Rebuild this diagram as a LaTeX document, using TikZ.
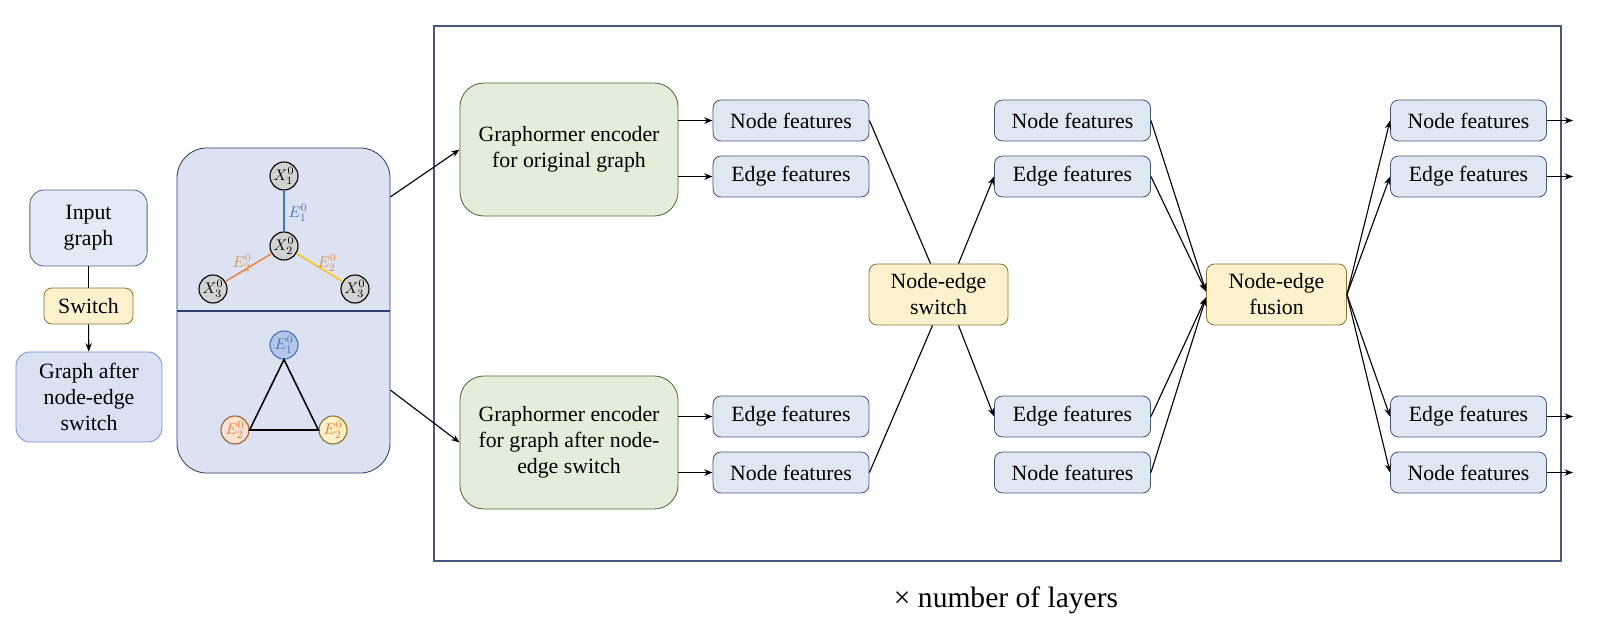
\documentclass[tikz,border=0pt]{standalone}
\usepackage{fontspec}
\setmainfont{Liberation Serif}
\usetikzlibrary{positioning,arrows.meta}

\definecolor{featfill}{HTML}{DFE7F3}
\definecolor{featline}{HTML}{44597D}
\definecolor{encfill}{HTML}{E2EDDA}
\definecolor{encline}{HTML}{4E6E3A}
\definecolor{yelfill}{HTML}{FBF1CD}
\definecolor{yelline}{HTML}{8C7430}
\definecolor{panfill}{HTML}{DCE2F2}
\definecolor{panline}{HTML}{2E3F6B}
\definecolor{inpfill}{HTML}{E2EAF5}
\definecolor{inpline}{HTML}{4F6A8F}
\definecolor{aftfill}{HTML}{DAE1F3}
\definecolor{aftline}{HTML}{7A93D8}
\definecolor{eblue}{HTML}{4472C4}
\definecolor{eorange}{HTML}{ED7D31}
\definecolor{egold}{HTML}{FFC000}
\definecolor{lblorange}{HTML}{E0904A}

\begin{document}
\begin{tikzpicture}
		[x=0.025cm, y=-0.025cm, >={Stealth[length=6pt,width=4.5pt]},
		font=\fontsize{15.5}{18.5}\selectfont, line width=0.8pt,
		feat/.style={draw=featline, fill=featfill, rounded corners=0.2cm,
			line width=0.6pt, minimum width=3.9cm, minimum height=1.025cm, inner sep=0pt},
		enc/.style={draw=encline, fill=encfill, rounded corners=0.6cm, align=center,
			line width=0.6pt, minimum width=5.45cm, minimum height=3.325cm},
		yel/.style={draw=yelline, fill=yelfill, rounded corners=0.2cm, align=center,
			line width=0.6pt, inner sep=0pt},
		gnode/.style={circle, draw, fill=gray!35, minimum size=0.7cm, inner sep=0pt,
			font=\fontsize{11}{13}\selectfont},
		enode/.style={circle, draw=#1, fill=#1!22, minimum size=0.7cm, inner sep=0pt,
			font=\fontsize{11}{13}\selectfont},
		elbl/.style={font=\fontsize{11}{13}\selectfont, inner sep=1pt}]
		\useasboundingbox (0,0) rectangle (1597,631);
		% layer frame
		\draw[draw=featline, line width=0.8pt] (434,26) rectangle (1561,561);
		\node at (1006,600) {\fontsize{21}{25}\selectfont × number of layers};

		% input side
		\node[draw=inpline, fill=inpfill, rounded corners=0.35cm, align=center,
			line width=0.6pt, minimum width=2.93cm, minimum height=1.9cm] (inp) at (88.5,228) {Input\\graph};
		\node[yel, minimum width=2.225cm, minimum height=0.9cm] (swi) at (88.5,306) {Switch};
		\node[draw=aftline, fill=aftfill, rounded corners=0.35cm, align=center,
			line width=0.6pt, minimum width=3.65cm, minimum height=2.25cm] (aft) at (89,397) {Graph after\\node-edge\\switch};
		\draw (inp) -- (swi);
		\draw[->] (swi) -- (aft);

		% graph panel
		\node[draw=panline, fill=panfill, rounded corners=0.75cm, line width=0.6pt,
			minimum width=5.325cm, minimum height=8.125cm] (pan) at (283.5,310.5) {};
		\draw[panline, line width=0.8pt] (pan.west |- 0,311) -- (pan.east |- 0,311);
		\path	(284,176) node[gnode] (x1) {$X_1^0$}
				(284,246) node[gnode] (x2) {$X_2^0$}
				(213,289) node[gnode] (x3l) {$X_3^0$}
				(355,289) node[gnode] (x3r) {$X_3^0$};
		\draw[eblue, line width=1pt] (x1) -- (x2);
		\draw[eorange, line width=1pt] (x2) -- (x3l);
		\draw[egold, line width=1pt] (x2) -- (x3r);
		\node[elbl, text=eblue] at (298,213) {$E_1^0$};
		\node[elbl, text=lblorange] at (242,263) {$E_2^0$};
		\node[elbl, text=lblorange] at (327,263) {$E_2^0$};
		\path	(284,345) node[enode=eblue, fill=eblue!40, text=eblue] (ee1) {$E_1^0$}
				(235,430) node[enode=eorange, draw=brown!80!black, text=eorange] (ee2l) {$E_2^0$}
				(333,430) node[enode=egold, draw=yelline, text=eorange] (ee2r) {$E_2^0$};
		\draw[line width=1.1pt] (ee1.south) -- (ee2l.east) -- (ee2r.west) -- cycle;

		% encoders
		\node[enc] (enc1) at (569,149.5) {Graphormer encoder\\for original graph};
		\node[enc] (enc2) at (569,442.5) {Graphormer encoder\\for graph after node-\\edge switch};
		\draw[->] ([yshift=2.84cm]pan.east) -- (enc1.west);
		\draw[->] ([yshift=-1.99cm]pan.east) -- (enc2.west);

		% feature columns
		\foreach \r/\y/\t in {1/120.5/Node,2/176.5/Edge,3/416.5/Edge,4/472.5/Node}{
			\path	(791,\y) node[feat] (a\r) {\t{} features}
					(1072.5,\y) node[feat] (b\r) {\t{} features}
					(1468.5,\y) node[feat] (c\r) {\t{} features};
			\coordinate (o\r) at (1573,\y);
		}
		\draw[->] (a1.west -| enc1.east) -- (a1.west);
		\draw[->] (a2.west -| enc1.east) -- (a2.west);
		\draw[->] (a3.west -| enc2.east) -- (a3.west);
		\draw[->] (a4.west -| enc2.east) -- (a4.west);

		% node-edge switch
		\node[yel, minimum width=3.475cm, minimum height=1.525cm] (nes) at (938.5,294.5) {Node-edge\\switch};
		\draw (a1.east) -- ([xshift=-0.2cm]nes.north);
		\draw (a4.east) -- ([xshift=-0.15cm]nes.south);
		\draw[->] ([xshift=0.5cm]nes.north) -- (b2.west);
		\draw[->] ([xshift=0.5cm]nes.south) -- (b3.west);

		% node-edge fusion
		\node[yel, minimum width=3.5cm, minimum height=1.525cm] (fus) at (1276.5,294.5) {Node-edge\\fusion};
		\foreach \r in {1,2}
			\draw[->] (b\r.east) -- ([yshift=2pt]fus.west);
		\foreach \r in {3,4}
			\draw[->] (b\r.east) -- ([yshift=-2pt]fus.west);
		\foreach \r in {1,...,4}{
			\draw[->] (fus.east) -- (c\r.west);
			\draw[->] (c\r.east) -- (o\r);
		}
	\end{tikzpicture}
\end{document}
